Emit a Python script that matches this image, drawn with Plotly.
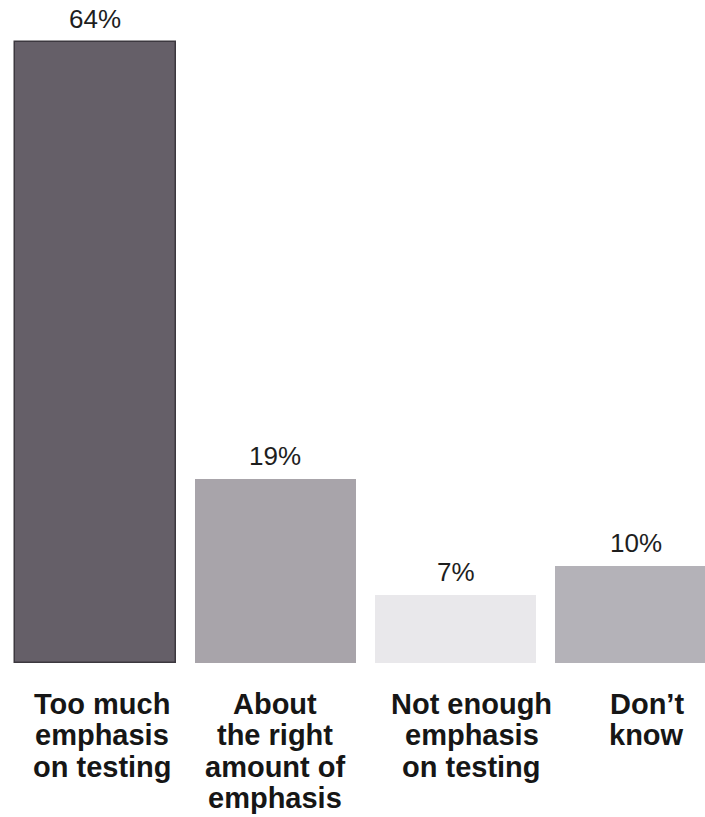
import plotly.graph_objects as go

# Survey responses: views on the emphasis placed on testing
categories = ["Too much emphasis on testing",
              "About the right amount of emphasis",
              "Not enough emphasis on testing",
              "Don't know"]
label_lines = [["Too much", "emphasis", "on testing"],
               ["About", "the right", "amount of", "emphasis"],
               ["Not enough", "emphasis", "on testing"],
               ["Don\u2019t", "know"]]
percent = [64, 19, 7, 10]

bar_colors = ["#655f68", "#a8a4aa", "#e9e8eb", "#b4b2b8"]
edge_colors = ["#3c383f", "#a8a4aa", "#e9e8eb", "#b4b2b8"]
label_xshift = [7, 0, 16, 11]

W, H = 705, 817
plot_h = 663          # height of the plotting area in px
y_top = 68.35         # value at the top edge of the plotting area
FONT = "Liberation Sans, Arial, sans-serif"

fig = go.Figure(go.Bar(
    x=list(range(len(categories))),
    y=percent,
    width=0.893,
    marker=dict(color=bar_colors,
                line=dict(color=edge_colors, width=[1.5, 0, 0, 0])),
    hoverinfo="skip",
))

# Percentage value above each bar
for i, v in enumerate(percent):
    fig.add_annotation(
        x=i, xref="x", y=v, yref="y",
        text=f"{v}%", showarrow=False,
        xanchor="center", yanchor="bottom", yshift=6,
        font=dict(family=FONT, size=26, color="#1e1e1e"),
    )

# Category labels under each bar, one annotation per line for tight leading
font_size = 29
line_gap = 31.3
first_center_px = 704
for i, lines in enumerate(label_lines):
    for j, line in enumerate(lines):
        py = first_center_px + j * line_gap
        fig.add_annotation(
            x=i, xref="x",
            y=(plot_h - py) / plot_h, yref="paper",
            text=line, showarrow=False,
            xanchor="center", yanchor="middle",
            xshift=label_xshift[i],
            font=dict(family=FONT, size=font_size, color="#161616", weight="bold"),
        )

fig.update_layout(
    width=W, height=H,
    margin=dict(l=0, r=0, t=0, b=H - plot_h, pad=0),
    paper_bgcolor="white", plot_bgcolor="white",
    showlegend=False,
    bargap=0,
    xaxis=dict(range=[-0.527, 3.383], showticklabels=False, showgrid=False,
               zeroline=False, showline=False, ticks="", fixedrange=True),
    yaxis=dict(range=[0, y_top], showticklabels=False, showgrid=False,
               zeroline=False, showline=False, ticks="", fixedrange=True),
)

fig.write_html("out.html")
